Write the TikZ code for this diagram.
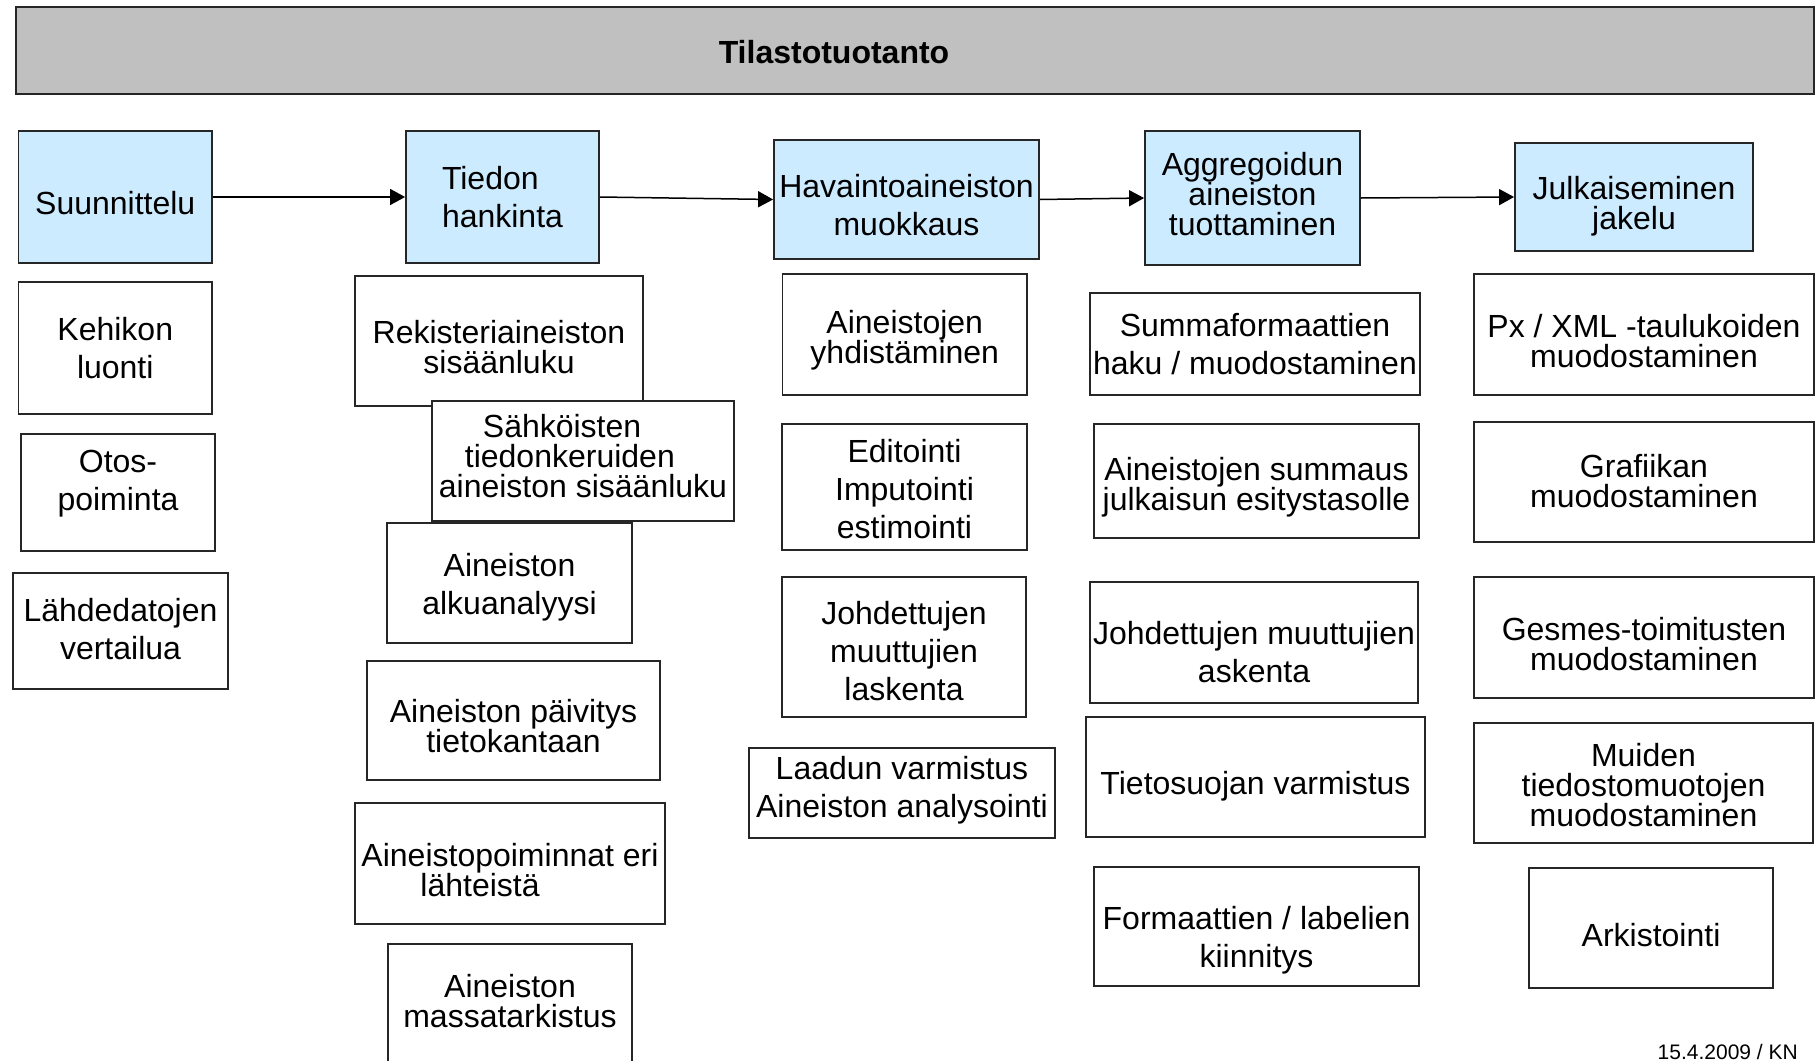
\documentclass[tikz,border=0pt]{standalone}
\usepackage{fontspec}
\setmainfont{Liberation Sans}
\usetikzlibrary{arrows.meta}
\definecolor{barfill}{HTML}{C0C0C0}
\definecolor{phasefill}{HTML}{CCEBFF}
\definecolor{edge}{HTML}{262626}
\tikzset{
  boxbase/.style={draw=edge, line width=1.8pt, rectangle, inner sep=0pt},
  phase/.style={boxbase, fill=phasefill},
  task/.style={boxbase, fill=white},
  wide/.style={font=\fontsize{32}{38}\selectfont},
  tight/.style={font=\fontsize{32}{30}\selectfont},
  lbl/.style={inner sep=0pt, align=center},
  conn/.style={draw=black, line width=1.5pt, -{Triangle[length=15pt,width=16pt]}},
}
% #1 name, #2 box style, #3 cx, #4 cy, #5 width, #6 height, #7 text style, #8 text dy, #9 text
\newcommand{\bxnode}[9]{%
  \node[#2, minimum width=#5pt, minimum height=#6pt] (#1) at (#3,#4) {};
  \node[lbl, #7] (#1t) at ({#3},{#4+#8}) {#9};
}
\begin{document}
\begin{tikzpicture}[x=1pt,y=-1pt]
\useasboundingbox (0,0) rectangle (1819,1060);
\clip (0,0) rectangle (1819,1060);
\fill[white] (0,0) rectangle (1819,1060);

% title bar
\node[draw=edge, line width=2.5pt, fill=barfill, minimum width=1798pt, minimum height=87pt, inner sep=0pt] (bar) at (915,50.5) {};
\node[lbl, font=\fontsize{32}{38}\selectfont\bfseries] (title) at (834,52) {Tilastotuotanto};

% phases
\bxnode{s1}{phase}{115.25}{197}{193.5}{132}{wide}{6}{Suunnittelu}
\bxnode{s2}{phase}{502.5}{197}{193}{132}{wide,align=left}{0}{Tiedon\\hankinta}
\bxnode{s3}{phase}{906.5}{199.5}{265}{119}{wide}{6}{Havaintoaineiston\\muokkaus}
\bxnode{s4}{phase}{1252.5}{198}{215}{134}{tight}{-4}{Aggregoidun\\aineiston\\tuottaminen}
\bxnode{s5}{phase}{1634}{197}{238}{108}{tight}{9}{Julkaiseminen\\jakelu}

\draw[conn] (s1.east) -- (s2.west);
\draw[conn] (s2.east) -- (s3.west);
\draw[conn] (s3.east) -- (s4.west);
\draw[conn] (s4.east) -- (s5.west);

% column 1
\bxnode{k1}{task}{115.25}{348}{193.5}{132}{wide}{0}{Kehikon\\luonti}
\bxnode{k2}{task}{118}{492.5}{194}{117}{wide}{-8.5}{Otos-\\poiminta}
\bxnode{k3}{task}{120.5}{631}{215}{116}{wide}{-2}{Lähdedatojen\\vertailua}

% column 2
\bxnode{t1}{task}{499}{341}{288}{130}{tight}{6}{Rekisteriaineiston\\sisäänluku}
\bxnode{t2}{task}{583}{461}{302}{120}{tight,align=left}{-5}{\hspace*{44pt}Sähköisten\\\hspace*{26pt}tiedonkeruiden\\aineiston sisäänluku}
\bxnode{t3}{task}{509.5}{583}{245}{120}{wide}{4}{Aineiston\\alkuanalyysi}
\bxnode{t4}{task}{513.5}{720.5}{293}{119}{tight}{6}{Aineiston päivitys\\tietokantaan}
\bxnode{t5}{task}{510}{863.5}{310}{121}{tight,align=left}{7}{Aineistopoiminnat eri\\\hspace*{59pt}lähteistä}
\bxnode{t6}{task}{510}{1014}{244}{140}{tight}{-13}{Aineiston\\massatarkistus}

% column 3
\bxnode{h1}{task}{904.75}{334.5}{244.5}{121}{tight}{6}{Aineistojen\\yhdistäminen}
\bxnode{h2}{task}{904.5}{487}{245}{126}{wide}{2}{Editointi\\Imputointi\\estimointi}
\bxnode{h3}{task}{904}{647}{244}{140}{wide}{4}{Johdettujen\\muuttujien\\laskenta}
\bxnode{h4}{task}{902}{793}{306}{90}{wide}{-3}{Laadun varmistus\\Aineiston analysointi}

% column 4
\bxnode{a1}{task}{1255}{344}{330}{102}{wide}{0}{Summaformaattien\\haku / muodostaminen}
\bxnode{a2}{task}{1256.5}{481}{325}{114}{tight}{6}{Aineistojen summaus\\julkaisun esitystasolle}
\bxnode{a3}{task}{1254}{642.5}{328}{121}{wide}{10}{Johdettujen muuttujien\\askenta}
\bxnode{a4}{task}{1255.5}{777}{339}{120}{wide}{9}{Tietosuojan varmistus}
\bxnode{a5}{task}{1256.5}{926.5}{325}{119}{wide}{14}{Formaattien / labelien\\kiinnitys}

% column 5
\bxnode{j1}{task}{1644}{334.5}{340}{121}{tight}{7}{Px / XML -taulukoiden\\muodostaminen}
\bxnode{j2}{task}{1644}{482}{340}{120}{tight}{-1}{Grafiikan\\muodostaminen}
\bxnode{j3}{task}{1644}{637.5}{340}{121}{tight}{7}{Gesmes-toimitusten\\muodostaminen}
\bxnode{j4}{task}{1643.5}{783}{339}{120}{tight}{2}{Muiden\\tiedostomuotojen\\muodostaminen}
\bxnode{j5}{task}{1651}{928}{244}{120}{wide}{7}{Arkistointi}

% footer
\node[lbl, anchor=base east, font=\fontsize{21}{25}\selectfont] (foot) at (1798,1059) {15.4.2009 / KN};
\end{tikzpicture}
\end{document}
